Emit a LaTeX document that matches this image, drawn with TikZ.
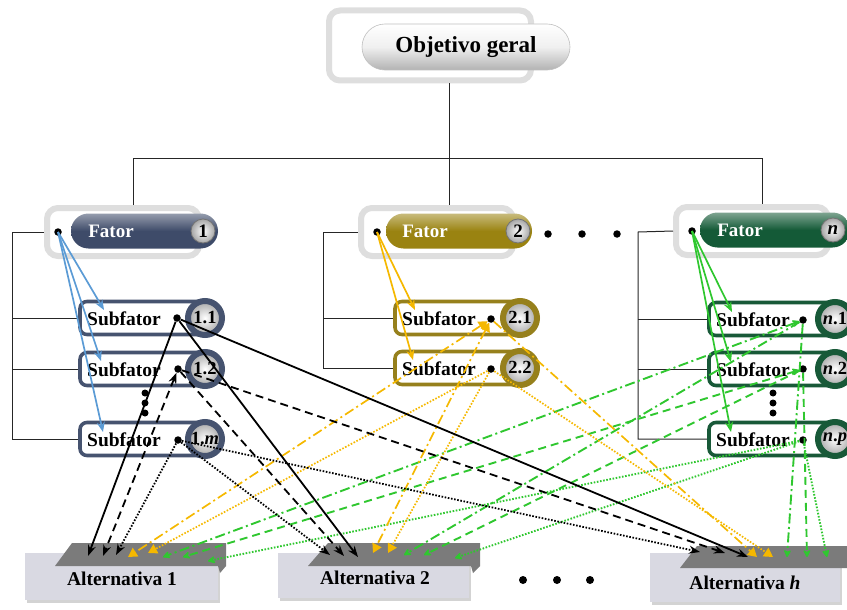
\documentclass[tikz,border=0pt]{standalone}
\usepackage{fontspec}
\setmainfont{Liberation Serif}
\usetikzlibrary{arrows.meta,shadows}
\definecolor{fblue}{HTML}{3E4B69}
\definecolor{fgold}{HTML}{9A8311}
\definecolor{fgreen}{HTML}{145A37}
\definecolor{sblue}{HTML}{46536F}
\definecolor{sgold}{HTML}{96801C}
\definecolor{sgreen}{HTML}{185938}
\definecolor{ablue}{HTML}{5B9BD5}
\definecolor{ayel}{HTML}{F5B800}
\definecolor{agreen}{HTML}{2FC72F}
\definecolor{altbg}{HTML}{D9D9E2}
\definecolor{altband}{HTML}{7B7B7B}
\begin{document}
\begin{tikzpicture}[x=1pt,y=-1pt,
  every node/.style={inner sep=0pt},
  lbl/.style={font=\fontsize{19.5}{21}\selectfont\bfseries},
  blk/.style={circle,fill=black,minimum size=7.5pt},
  tree/.style={draw=black!85,line width=1pt},
  gframe/.style={draw=black!13,line width=6pt,rounded corners=11pt,fill=white},
  sbox/.style={draw=#1,line width=3.6pt,rounded corners=7pt,fill=white,minimum width=125pt,minimum height=33pt},
  ring/.style={draw=#1,circle,line width=6pt,minimum size=34pt,inner color=white,outer color=black!35,font=\fontsize{18.5}{19}\selectfont\bfseries},
  pill/.style={rounded corners=17.5pt,minimum height=35pt,top color=#1!55!white,bottom color=#1,middle color=#1},
  ball/.style={circle,minimum size=24pt,draw=black!55,line width=0.8pt,inner color=white,outer color=black!35,font=\fontsize{19}{19}\selectfont\bfseries},
  ftxt/.style={text=white,font=\fontsize{19}{19}\selectfont\bfseries},
  altbox/.style={fill=altbg,drop shadow={shadow xshift=2pt,shadow yshift=-3pt,opacity=0.35}},
  band/.style={fill=altband},
  dsh/.style={dash pattern=on 8pt off 5pt},
  dtt/.style={dash pattern=on 1.6pt off 1.6pt},
  ddt/.style={dash pattern=on 10pt off 3.5pt on 2pt off 3.5pt},
  tipk/.style={-{Stealth[length=11pt,width=8pt]}},
  tipkk/.style={{Stealth[length=11pt,width=8pt]}-{Stealth[length=11pt,width=8pt]}},
  tipy/.style={-{Triangle[length=9pt,width=10pt]}},
  tipyy/.style={{Triangle[length=9pt,width=10pt]}-{Triangle[length=9pt,width=10pt]}},
  tipg/.style={-{Stealth[length=9pt,width=9pt,round]}},
  tipgg/.style={{Stealth[length=9pt,width=9pt,round]}-{Stealth[length=9pt,width=9pt,round]}},
  fa/.style={draw=#1,line width=1.7pt,-{Stealth[length=10pt,width=8pt]}}
]
\useasboundingbox (0,0) rectangle (847,610);

% ---------- tree lines ----------
\coordinate (hub) at (449,158);
\coordinate (h1) at (133,158);
\coordinate (hn) at (762,158);
\coordinate (b1) at (12,232);
\coordinate (b2) at (323,232);
\coordinate (bn) at (638,232);

\node[gframe,minimum width=202pt,minimum height=70pt] (ofr) at (430,45.5) {};
\node[gframe,minimum width=152pt,minimum height=48pt] (ff1) at (123,232) {};
\node[gframe,minimum width=152pt,minimum height=48pt] (ff2) at (437,232) {};
\node[gframe,minimum width=152pt,minimum height=48pt] (ffn) at (752,231) {};

\node[sbox=sblue] (s11) at (142.5,318) {};
\node[sbox=sblue] (s12) at (142.5,369) {};
\node[sbox=sblue] (s1m) at (142.5,439) {};
\node[sbox=sgold] (s21) at (457.5,318) {};
\node[sbox=sgold] (s22) at (457.5,368) {};
\node[sbox=sgreen] (sn1) at (771.5,319) {};
\node[sbox=sgreen] (sn2) at (771.5,369) {};
\node[sbox=sgreen] (snp) at (771.5,439) {};

\draw[tree] (ofr.south -| hub) -- (hub);
\draw[tree] (ff1.north -| h1) -- (h1) -- (hn) -- (ffn.north -| hn);
\draw[tree] (hub) -- (ff2.north -| hub);
\draw[tree] (ff1.west) -- (b1) |- (s1m.west);
\draw[tree] (b1 |- s11) -- (s11.west);
\draw[tree] (b1 |- s12) -- (s12.west);
\draw[tree] (ff2.west) -- (b2) |- (s22.west);
\draw[tree] (b2 |- s21) -- (s21.west);
\draw[tree] (ffn.west) -- (bn) |- (snp.west);
\draw[tree] (bn |- sn1) -- (sn1.west);
\draw[tree] (bn |- sn2) -- (sn2.west);

% ---------- objective ----------
\node[rounded corners=23pt,minimum width=208pt,minimum height=46pt,draw=black!25,line width=0.6pt,top color=white,bottom color=black!30,middle color=black!6] (obj) at (466,47) {};
\node[font=\fontsize{23}{25}\selectfont\bfseries] (objt) at (466,47) {Objetivo geral};

% ---------- factors ----------
\node[pill=fblue,minimum width=147pt] (p1) at (144.5,231) {};
\node[pill=fgold,minimum width=146pt] (p2) at (459,231) {};
\node[pill=fgreen,minimum width=150pt] (pn) at (775,230) {};
\node[ftxt] (t1) at (111,231) {Fator};
\node[ftxt] (t2) at (425,231) {Fator};
\node[ftxt] (tn) at (740,230) {Fator};
\node[ball] (n1) at (203,231) {1};
\node[ball] (n2) at (518,231) {2};
\node[ball] (nn) at (833,230) {\textit{n}};
\node[blk] (fd1) at (58,232) {};
\node[blk] (fd2) at (377,232) {};
\node[blk] (fdn) at (692,231) {};
\node[blk] (e1) at (548,234) {};
\node[blk] (e2) at (582,234) {};
\node[blk] (e3) at (617,234) {};

% ---------- subfactors ----------
\node[ring=sblue] (c11) at (205,318) {1.1};
\node[ring=sblue] (c12) at (205,369) {1.2};
\node[ring=sblue] (c1m) at (205,439) {1.\textit{m}};
\node[ring=sgold] (c21) at (520,318) {2.1};
\node[ring=sgold] (c22) at (520,368) {2.2};
\node[ring=sgreen] (cn1) at (835,319) {\textit{n}.1};
\node[ring=sgreen] (cn2) at (835,369) {\textit{n}.2};
\node[ring=sgreen] (cnp) at (835,439) {\textit{n}.\textit{p}};
\foreach \nm/\x/\y in {l11/124/319,l12/124/370,l1m/124/440,l21/439/319,l22/439/369,ln1/753/320,ln2/753/370,lnp/753/440}
  \node[lbl] (\nm) at (\x,\y) {Subfator};
\node[blk] (d11) at (177,318) {};
\node[blk] (d12) at (178,369) {};
\node[blk] (d1m) at (178,440) {};
\node[blk] (d21) at (491,319) {};
\node[blk] (d22) at (491,369) {};
\node[blk] (dn1) at (803,320) {};
\node[blk] (dn2) at (803,369) {};
\node[blk] (dnp) at (803,440) {};
\foreach \nm/\x/\y in {v1/145/393,v2/145/403,v3/145/413,w1/773/393,w2/773/403,w3/773/413}
  \node[blk,minimum size=7pt] (\nm) at (\x,\y) {};

% ---------- alternatives ----------
\node[altbox,minimum width=193pt,minimum height=47pt] (A1) at (121.5,576.5) {};
\node[altbox,minimum width=191pt,minimum height=45pt] (A2) at (373.5,575.5) {};
\node[altbox,minimum width=190pt,minimum height=49pt] (Ah) at (745,577.5) {};
\fill[band] (55,566) -- (72,543) -- (226,543) -- (226,566) -- cycle;
\fill[band] (218,566) -- (226,566) -- (220,573) -- cycle;
\fill[band] (308,566) -- (328,543) -- (480,543) -- (480,566) -- cycle;
\fill[band] (471,566) -- (480,566) -- (473,573) -- cycle;
\fill[band] (680,568) -- (697,546) -- (847,546) -- (847,568) -- cycle;
\node[lbl] (A1t) at (122,579) {Alternativa 1};
\node[lbl] (A2t) at (375,578) {Alternativa 2};
\node[lbl] (Aht) at (745,583) {Alternativa \textit{h}};
\node[blk,minimum size=8pt] (g1) at (523,580) {};
\node[blk,minimum size=8pt] (g2) at (557,580) {};
\node[blk,minimum size=8pt] (g3) at (590,580) {};

% ---------- targets ----------
\coordinate (a1k1) at (88,556);  \coordinate (a1k2) at (103,556); \coordinate (a1k3) at (116,555);
\coordinate (a1y1) at (128,557); \coordinate (a1y2) at (148,553);
\coordinate (a1g1) at (163,557); \coordinate (a1g2) at (183,557); \coordinate (a1g3) at (208,561);
\coordinate (a2k3) at (330,555); \coordinate (a2k2) at (344,556); \coordinate (a2k1) at (358,557);
\coordinate (a2y1) at (373,553); \coordinate (a2y2) at (388,553);
\coordinate (a2g1) at (404,555); \coordinate (a2g2) at (424,555); \coordinate (a2g3) at (455,558);
\coordinate (ahk3) at (700,552); \coordinate (ahk2) at (725,553); \coordinate (ahk1) at (748,557);
\coordinate (ahy1) at (757,557); \coordinate (ahy2) at (773,557);
\coordinate (ahg1) at (787,557); \coordinate (ahg2) at (807,557); \coordinate (ahg3) at (827,557);
\coordinate (t11) at (104,310); \coordinate (t12) at (101,361); \coordinate (t1m) at (103,432);
\coordinate (t21) at (415,310); \coordinate (t22) at (413,360);
\coordinate (tn1) at (732,312); \coordinate (tn2) at (731,362); \coordinate (tnp) at (731,432);

% ---------- factor -> subfactor arrows ----------
\draw[fa=ablue] (fd1.center) -- (t11);
\draw[fa=ablue] (fd1.center) -- (t12);
\draw[fa=ablue] (fd1.center) -- (t1m);
\draw[fa=ayel] (fd2.center) -- (t21);
\draw[fa=ayel] (fd2.center) -- (t22);
\draw[fa=agreen] (fdn.center) -- (tn1);
\draw[fa=agreen] (fdn.center) -- (tn2);
\draw[fa=agreen] (fdn.center) -- (tnp);

% ---------- green links ----------
\begin{scope}[agreen,line width=1.9pt]
\draw[ddt,tipgg] (dn1) -- (a1g1);
\draw[dsh,tipgg] (dn2) -- (a1g2);
\draw[dtt,tipg] (dnp) -- (a1g3);
\draw[ddt,tipg] (dn1) -- (a2g1);
\draw[dsh,tipg] (dn2) -- (a2g2);
\draw[dtt,tipg] (dnp) -- (a2g3);
\draw[ddt,tipg] (dn1) -- (ahg1);
\draw[dsh,tipg] (dn2) -- (ahg2);
\draw[dtt,tipg] (dnp) -- (ahg3);
\end{scope}

% ---------- yellow links ----------
\begin{scope}[ayel,line width=1.7pt]
\draw[ddt,tipyy] (d21) -- (a1y1);
\draw[dtt,tipy] (d22) -- (a1y2);
\draw[ddt,tipyy] (d21) -- (a2y1);
\draw[dtt,tipy] (d22) -- (a2y2);
\draw[ddt,tipy] (d21) -- (ahy1);
\draw[dtt,tipy] (d22) -- (ahy2);
\end{scope}

% ---------- black links ----------
\begin{scope}[black,line width=1.8pt]
\draw[tipk] (d11) -- (a1k1);
\draw[dsh,tipkk] (d12) -- (a1k2);
\draw[dtt,tipk] (d1m) -- (a1k3);
\draw[tipk] (d11) -- (a2k1);
\draw[dsh,tipk] (d12) -- (a2k2);
\draw[dtt,tipk] (d1m) -- (a2k3);
\draw[tipk] (d11) -- (ahk1);
\draw[dsh,tipk] (d12) -- (ahk2);
\draw[dtt,tipk] (d1m) -- (ahk3);
\end{scope}
\end{tikzpicture}
\end{document}
